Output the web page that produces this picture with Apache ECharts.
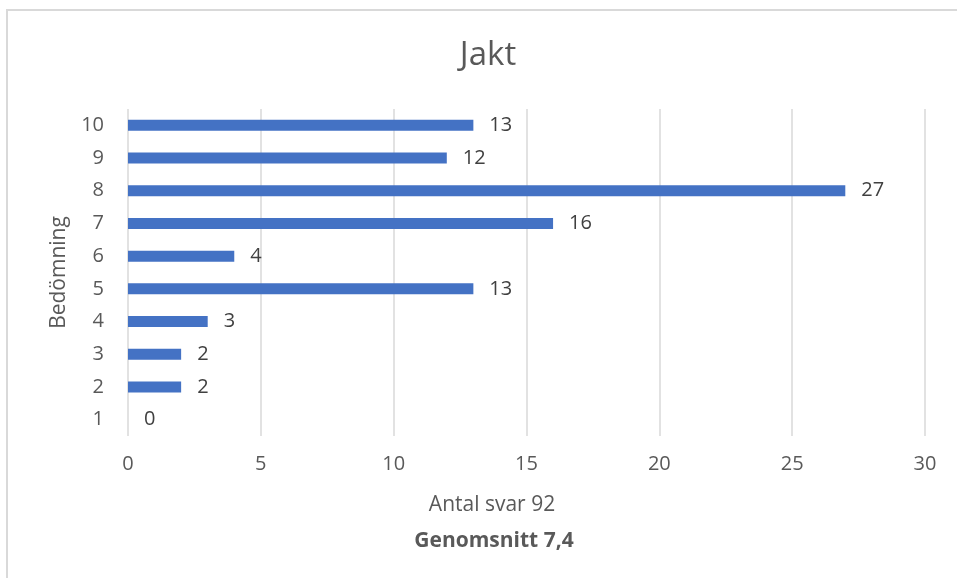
<!DOCTYPE html>
<html><head><meta charset="utf-8">
<script src="https://cdn.jsdelivr.net/npm/echarts@6/dist/echarts.min.js"></script>
<style>html,body{margin:0;padding:0;background:#fff}#c{width:957px;height:578px}</style>
</head><body><div id="c"></div>
<script>
const categories = ['1','2','3','4','5','6','7','8','9','10'];
const values = [0,2,2,3,13,4,16,27,12,13];
const xTicks = [0,5,10,15,20,25,30];
const titleText = 'Jakt';
const yName = 'Bedömning';
const xName1 = 'Antal svar 92';
const xName2 = 'Genomsnitt 7,4';

const font = '"Open Sans", "Noto Sans", sans-serif';
const chart = echarts.init(document.getElementById('c'));
chart.setOption({
  animation: false,
  backgroundColor: '#fff',
  graphic: [
    { type: 'rect', shape: { x: 7, y: 10, width: 980, height: 600 }, style: { fill: 'none', stroke: '#d9d9d9', lineWidth: 2 }, silent: true },
    { type: 'text', x: 488, y: 56, style: { text: titleText, font: '33px ' + font, fill: '#595959', textAlign: 'center', textVerticalAlign: 'middle' } },
    { type: 'text', x: 492, y: 505, style: { text: xName1, font: '21px ' + font, fill: '#595959', textAlign: 'center', textVerticalAlign: 'middle' } },
    { type: 'text', x: 494, y: 541, style: { text: xName2, font: 'bold 21px ' + font, fill: '#595959', textAlign: 'center', textVerticalAlign: 'middle' } }
  ],
  grid: { left: 128, right: 32, top: 109, bottom: 142, containLabel: false },
  xAxis: {
    type: 'value', min: xTicks[0], max: xTicks[xTicks.length-1], interval: 5,
    axisLine: { show: false }, axisTick: { show: false },
    axisLabel: { fontFamily: font, fontSize: 20, color: '#595959', margin: 18 },
    splitLine: { lineStyle: { color: '#d9d9d9', width: 1.5 } }
  },
  yAxis: {
    type: 'category', data: categories,
    name: yName, nameLocation: 'middle', nameGap: 58, nameRotate: 90,
    nameTextStyle: { fontFamily: font, fontSize: 21, color: '#595959' },
    axisLine: { show: false }, axisTick: { show: false },
    axisLabel: { fontFamily: font, fontSize: 20, color: '#595959', margin: 24 }
  },
  series: [{
    type: 'bar', data: values, barWidth: 11,
    itemStyle: { color: '#4472C4' },
    label: { show: true, position: 'right', distance: 16, fontFamily: font, fontSize: 20, color: '#404040' }
  }]
});
</script></body></html>
